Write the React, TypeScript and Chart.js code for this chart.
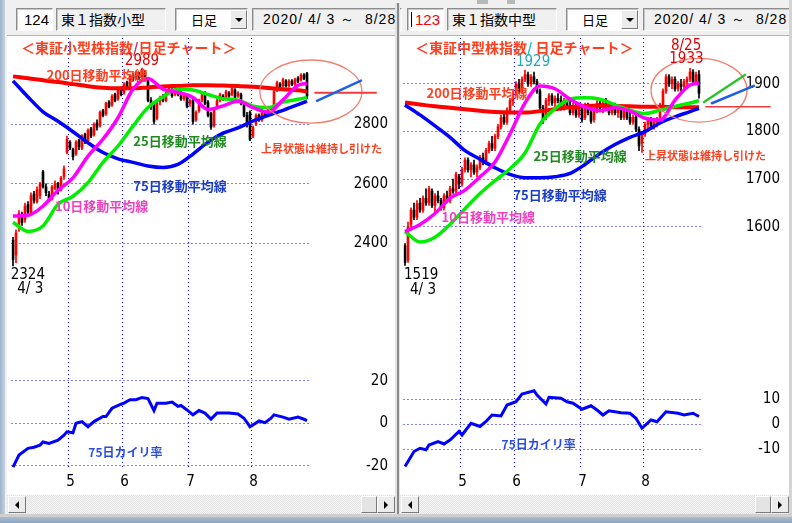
import React, { useEffect, useRef } from 'react';
import { Chart, registerables } from 'chart.js';

Chart.register(...registerables);

// ================= DATA =================
// trading days 2020/4/3 .. 8/28 (index 0..98); month boundaries between days
const monthTickDays = [18.5, 36.5, 58.5, 79.5];
const monthTickLabels = ['5', '6', '7', '8'];
const firstDayLabel = '4/ 3';

// 東１指数小型 : [open, high, low, close]
const smallOHLC = [
  [2410, 2420, 2324, 2345], [2360, 2445, 2335, 2435], [2450, 2510, 2440, 2500], [2495, 2505, 2460, 2470],
  [2480, 2535, 2470, 2525], [2530, 2540, 2495, 2505], [2500, 2570, 2495, 2560], [2565, 2575, 2535, 2545],
  [2540, 2590, 2535, 2580], [2560, 2605, 2550, 2600], [2640, 2645, 2585, 2590], [2590, 2600, 2560, 2570],
  [2565, 2575, 2540, 2545], [2550, 2595, 2545, 2590], [2585, 2610, 2580, 2600], [2600, 2605, 2565, 2575],
  [2580, 2625, 2575, 2620], [2625, 2660, 2615, 2650], [2705, 2760, 2700, 2750], [2740, 2745, 2715, 2720],
  [2715, 2720, 2680, 2690], [2700, 2745, 2695, 2740], [2745, 2750, 2715, 2725], [2720, 2765, 2715, 2760],
  [2765, 2770, 2735, 2740], [2745, 2785, 2740, 2780], [2785, 2790, 2755, 2760], [2765, 2805, 2760, 2800],
  [2805, 2815, 2780, 2790], [2795, 2845, 2790, 2840], [2845, 2850, 2825, 2830], [2835, 2875, 2830, 2870],
  [2875, 2880, 2855, 2860], [2865, 2900, 2860, 2895], [2900, 2905, 2875, 2880], [2885, 2920, 2880, 2915],
  [2920, 2925, 2895, 2900], [2905, 2940, 2900, 2935], [2940, 2945, 2920, 2925], [2930, 2965, 2925, 2960],
  [2965, 2970, 2945, 2950], [2955, 2980, 2950, 2975], [2970, 2975, 2950, 2955], [2960, 2989, 2955, 2985],
  [2975, 2980, 2945, 2950], [2945, 2950, 2875, 2880], [2880, 2890, 2850, 2860], [2870, 2875, 2800, 2810],
  [2820, 2875, 2815, 2870], [2875, 2895, 2865, 2890], [2895, 2900, 2875, 2880], [2880, 2910, 2875, 2905],
  [2910, 2925, 2905, 2920], [2915, 2920, 2890, 2895], [2900, 2930, 2895, 2925], [2920, 2925, 2895, 2900],
  [2905, 2910, 2880, 2885], [2885, 2905, 2880, 2900], [2895, 2900, 2855, 2860], [2870, 2885, 2860, 2880],
  [2880, 2885, 2800, 2810], [2815, 2845, 2810, 2840], [2845, 2885, 2840, 2880], [2880, 2905, 2875, 2900],
  [2905, 2910, 2865, 2870], [2875, 2880, 2825, 2830], [2835, 2840, 2783, 2790], [2795, 2855, 2790, 2850],
  [2855, 2885, 2850, 2880], [2880, 2905, 2875, 2900], [2895, 2900, 2880, 2885], [2890, 2915, 2885, 2910],
  [2905, 2910, 2890, 2895], [2900, 2925, 2895, 2920], [2915, 2920, 2885, 2890], [2895, 2910, 2890, 2905],
  [2900, 2905, 2865, 2870], [2870, 2875, 2825, 2830], [2830, 2840, 2790, 2800], [2840, 2845, 2745, 2750],
  [2760, 2795, 2755, 2790], [2800, 2835, 2795, 2830], [2830, 2835, 2810, 2815], [2815, 2850, 2810, 2845],
  [2840, 2845, 2825, 2830], [2830, 2855, 2825, 2850], [2850, 2855, 2835, 2840], [2845, 2915, 2840, 2910],
  [2915, 2945, 2910, 2940], [2935, 2940, 2920, 2925], [2930, 2955, 2925, 2950], [2945, 2950, 2925, 2930],
  [2930, 2950, 2925, 2945], [2945, 2950, 2930, 2935], [2935, 2955, 2930, 2950], [2955, 2960, 2940, 2945],
  [2950, 2970, 2945, 2965], [2965, 2970, 2950, 2955], [2970, 2975, 2885, 2895],
];

// 東１指数中型 : [open, high, low, close]
const midOHLC = [
  [1560, 1565, 1519, 1525], [1530, 1610, 1525, 1600], [1605, 1640, 1600, 1635], [1635, 1650, 1615, 1620],
  [1620, 1655, 1615, 1648], [1650, 1660, 1630, 1635], [1635, 1665, 1630, 1660], [1660, 1680, 1645, 1650],
  [1650, 1685, 1645, 1680], [1675, 1680, 1640, 1645], [1645, 1670, 1630, 1665], [1665, 1675, 1650, 1655],
  [1655, 1660, 1635, 1640], [1640, 1670, 1635, 1665], [1665, 1675, 1650, 1655], [1655, 1685, 1650, 1680],
  [1680, 1700, 1670, 1675], [1675, 1715, 1670, 1710], [1705, 1710, 1680, 1690], [1690, 1725, 1685, 1720],
  [1720, 1745, 1715, 1740], [1740, 1745, 1715, 1720], [1720, 1735, 1705, 1730], [1730, 1740, 1710, 1715],
  [1715, 1730, 1705, 1725], [1725, 1750, 1720, 1745], [1745, 1755, 1730, 1735], [1735, 1765, 1730, 1760],
  [1760, 1780, 1755, 1775], [1775, 1790, 1760, 1765], [1765, 1795, 1760, 1790], [1790, 1815, 1785, 1810],
  [1810, 1835, 1805, 1830], [1830, 1840, 1815, 1820], [1820, 1850, 1815, 1845], [1845, 1870, 1840, 1865],
  [1865, 1885, 1855, 1880], [1880, 1905, 1875, 1900], [1900, 1910, 1880, 1885], [1885, 1915, 1880, 1910],
  [1910, 1929, 1905, 1920], [1920, 1925, 1895, 1900], [1900, 1920, 1895, 1915], [1915, 1925, 1900, 1905],
  [1905, 1910, 1880, 1885], [1885, 1890, 1845, 1850], [1850, 1855, 1817, 1825], [1830, 1870, 1825, 1865],
  [1865, 1880, 1855, 1875], [1875, 1880, 1855, 1860], [1860, 1875, 1850, 1870], [1870, 1880, 1860, 1865],
  [1865, 1875, 1845, 1850], [1850, 1870, 1845, 1865], [1865, 1870, 1850, 1855], [1855, 1865, 1835, 1840],
  [1840, 1860, 1835, 1855], [1855, 1860, 1830, 1835], [1835, 1855, 1830, 1850], [1850, 1855, 1820, 1825],
  [1830, 1860, 1825, 1855], [1855, 1860, 1835, 1840], [1840, 1845, 1817, 1822], [1825, 1850, 1820, 1845],
  [1845, 1865, 1840, 1860], [1860, 1870, 1845, 1850], [1850, 1865, 1840, 1860], [1860, 1870, 1845, 1850],
  [1850, 1860, 1835, 1840], [1840, 1860, 1835, 1855], [1855, 1860, 1835, 1840], [1840, 1855, 1830, 1850],
  [1850, 1855, 1825, 1830], [1830, 1850, 1825, 1845], [1845, 1850, 1825, 1830], [1830, 1840, 1815, 1820],
  [1820, 1835, 1815, 1830], [1830, 1835, 1800, 1805], [1805, 1810, 1760, 1770], [1775, 1800, 1756, 1795],
  [1795, 1820, 1790, 1815], [1815, 1830, 1805, 1825], [1825, 1830, 1805, 1810], [1810, 1825, 1805, 1820],
  [1820, 1830, 1810, 1828], [1830, 1860, 1825, 1855], [1855, 1890, 1850, 1885], [1885, 1920, 1880, 1915],
  [1915, 1920, 1895, 1900], [1900, 1915, 1890, 1910], [1910, 1915, 1885, 1890], [1890, 1905, 1885, 1900],
  [1900, 1910, 1885, 1895], [1895, 1910, 1890, 1905], [1905, 1915, 1895, 1910], [1910, 1933, 1905, 1925],
  [1925, 1930, 1900, 1905], [1905, 1925, 1900, 1920], [1920, 1928, 1870, 1880],
];

// moving averages read at these day indices
const maDays = [0, 5, 10, 15, 20, 25, 30, 35, 40, 45, 50, 55, 60, 65, 70, 75, 80, 85, 90, 95, 98];
const smallMA200 = [2961, 2955, 2948, 2942, 2935, 2928, 2923, 2921, 2921, 2924, 2927, 2929, 2931, 2931, 2930, 2929, 2926, 2922, 2918, 2914, 2911];
const smallMA75 = [2946, 2892, 2842, 2810, 2775, 2738, 2705, 2684, 2672, 2660, 2655, 2665, 2700, 2740, 2770, 2788, 2811, 2830, 2847, 2866, 2878];
const smallMA25 = [2471, 2440, 2458, 2531, 2558, 2604, 2672, 2727, 2794, 2856, 2892, 2918, 2915, 2900, 2886, 2881, 2861, 2856, 2875, 2884, 2890];
const smallMA10 = [2492, 2494, 2525, 2578, 2620, 2693, 2750, 2822, 2918, 2954, 2918, 2907, 2890, 2850, 2862, 2877, 2856, 2841, 2882, 2931, 2938];
const midMA200 = [1861, 1857, 1853, 1850, 1847, 1844, 1841, 1840, 1840, 1843, 1847, 1851, 1854, 1855, 1854, 1853, 1852, 1852, 1851, 1851, 1851];
const midMA75 = [1856, 1835, 1812, 1788, 1760, 1742, 1724, 1710, 1703, 1703, 1705, 1712, 1731, 1754, 1773, 1788, 1800, 1818, 1831, 1842, 1849];
const midMA25 = [1590, 1568, 1578, 1605, 1638, 1670, 1697, 1722, 1755, 1816, 1848, 1868, 1871, 1868, 1856, 1845, 1838, 1845, 1853, 1860, 1865];
const midMA10 = [1590, 1605, 1628, 1660, 1677, 1705, 1736, 1795, 1860, 1896, 1890, 1868, 1852, 1844, 1850, 1843, 1828, 1824, 1866, 1898, 1902];

// 75日カイリ率 (%)
const smallDevDays = [0, 2, 5, 7, 9, 10, 12, 15, 17, 18, 20, 21, 23, 25, 27, 30, 31, 33, 36, 37, 39, 41, 43, 45, 47, 48, 51, 53, 55, 56, 58, 60, 62, 64, 66, 68, 72, 75, 77, 79, 80, 82, 84, 86, 87, 90, 92, 95, 97, 98];
const smallDev = [-20.7, -15, -11.8, -11.3, -10.3, -8.8, -9.5, -8, -5.6, -4, -4.5, 0, 0.8, -1.6, 0.8, 3.2, 3.2, 7.1, 9, 9.5, 11.1, 11.1, 12.2, 11.7, 6, 9.5, 9.5, 10, 8, 8.4, 6.3, 4, 6, 4.8, 2, 4.8, 4.8, 4.4, 2.4, -1.6, -0.8, 1.1, 0.3, 2.4, 4, 2.9, 1.9, 2.9, 1.9, 1.3];
const midDevDays = [0, 3, 5, 7, 8, 11, 13, 15, 18, 19, 22, 25, 27, 29, 32, 34, 37, 39, 43, 44, 47, 48, 52, 54, 56, 59, 62, 64, 66, 68, 72, 75, 77, 79, 82, 84, 87, 91, 93, 96, 98];
const midDev = [-17, -11, -9.7, -10.3, -8.4, -7, -8, -6.4, -3, -4.4, 0.3, -1, 1, 3.6, 3.2, 7.6, 8.9, 12, 13.3, 11.6, 8, 10.7, 10.3, 8.9, 8.3, 5.9, 7.3, 5.6, 3.6, 5.3, 4.5, 4.3, 2.3, -1.7, 1.6, 0.9, 4.9, 4.3, 3.6, 4.3, 3];

// axis ticks
const smallPriceTicks = [2400, 2600, 2800];
const smallDevTicks = [-20, -10, 0, 10, 20];
const midPriceTicks = [1600, 1700, 1800, 1900];
const midDevTicks = [-10, 0, 10];

// ================= STYLE =================
const JP = '"Noto Sans CJK JP", "Noto Sans CJK SC", sans-serif';
const NUM = '"Liberation Sans Narrow", "DejaVu Sans Condensed", "Liberation Sans", sans-serif';
const NUM_SIZE = 15;
const GRID = '#0000ff';
const UP = '#ff0000';
const DOWN = '#000000';
const CW = 391;
const CH = 459;
const AXIS_W = 78;

type Part = { t: string; c: string };
type Note = { day: number; value: number; axis: 'y' | 'y2'; parts: Part[]; font: string; center?: boolean };
type Oval = { day: number; value: number; rDays: number; rValue: number; color: string; width: number };
type Seg = { d1: number; v1: number; d2: number; v2: number; color: string; width: number };

type Panel = {
  ohlc: number[][];
  ma200: number[]; ma75: number[]; ma25: number[]; ma10: number[];
  devDays: number[]; dev: number[];
  priceMin: number; priceMax: number; priceTicks: number[];
  devMin: number; devMax: number; devTicks: number[];
  notes: Note[]; ovals: Oval[]; segs: Seg[];
};

const ORANGE = '#ff4020';
const bold = (px: number) => `bold ${px}px ${JP}`;
const numFont = `${NUM_SIZE}px ${NUM}`;

const smallPeak = smallOHLC.reduce((b, r, i) => (r[1] > smallOHLC[b][1] ? i : b), 0);
const midPeak = midOHLC.reduce((b, r, i) => (r[1] > midOHLC[b][1] ? i : b), 0);

const smallPanel: Panel = {
  ohlc: smallOHLC, ma200: smallMA200, ma75: smallMA75, ma25: smallMA25, ma10: smallMA10,
  devDays: smallDevDays, dev: smallDev,
  priceMin: 2007.7, priceMax: 3090, priceTicks: smallPriceTicks,
  devMin: -22.03, devMax: 29.86, devTicks: smallDevTicks,
  ovals: [{ day: 99.3, value: 2910, rDays: 17, rValue: 106, color: '#f08070', width: 1.3 }],
  segs: [
    { d1: 100.7, v1: 2906, d2: 121, v2: 2906, color: '#f03c3c', width: 2 },
    { d1: 101.3, v1: 2879, d2: 116, v2: 2947, color: '#2060e8', width: 2.5 },
  ],
  notes: [
    { day: smallPeak, value: 3014, axis: 'y', parts: [{ t: String(smallOHLC[smallPeak][1]), c: '#e00000' }], font: numFont, center: true },
    { day: 2.67, value: 3056, axis: 'y', parts: [{ t: '＜東証小型株指数', c: ORANGE }, { t: '/', c: '#c03060' }, { t: '日足チャート＞', c: ORANGE }], font: bold(14) },
    { day: -0.77, value: 2293, axis: 'y', parts: [{ t: String(smallOHLC[0][2]), c: '#000' }], font: numFont },
    { day: 1.43, value: 2245, axis: 'y', parts: [{ t: firstDayLabel, c: '#000' }], font: numFont },
    { day: 11.2, value: 2966, axis: 'y', parts: [{ t: '200日移動平均線', c: ORANGE }], font: bold(13) },
    { day: 40.1, value: 2744, axis: 'y', parts: [{ t: '25日移動平均線', c: '#208a20' }], font: bold(13) },
    { day: 40.1, value: 2593, axis: 'y', parts: [{ t: '75日移動平均線', c: '#1a3cc8' }], font: bold(13) },
    { day: 14, value: 2526, axis: 'y', parts: [{ t: '10日移動平均線', c: '#f040c0' }], font: bold(13) },
    { day: 82.7, value: 2719, axis: 'y', parts: [{ t: '上昇状態は維持し引けた', c: ORANGE }], font: bold(11) },
    { day: 25.1, value: -13.7, axis: 'y2', parts: [{ t: '75日カイリ率', c: '#2a4ce0' }], font: bold(12) },
  ],
};

const midPanel: Panel = {
  ohlc: midOHLC, ma200: midMA200, ma75: midMA75, ma25: midMA25, ma10: midMA10,
  devDays: midDevDays, dev: midDev,
  priceMin: 1320.2, priceMax: 1996.6, priceTicks: midPriceTicks,
  devMin: -18.4, devMax: 25.6, devTicks: midDevTicks,
  ovals: [{ day: 98, value: 1887, rDays: 16, rValue: 67, color: '#f08070', width: 1.3 }],
  segs: [
    { d1: 100.3, v1: 1852, d2: 121.7, v2: 1852, color: '#f03c3c', width: 1.5 },
    { d1: 99.7, v1: 1862, d2: 113.3, v2: 1919, color: '#30c030', width: 2.5 },
    { d1: 102.3, v1: 1859.5, d2: 116.3, v2: 1896, color: '#2060e8', width: 2.5 },
  ],
  notes: [
    { day: 42.7, value: 1947, axis: 'y', parts: [{ t: '1929', c: '#20a8b8' }], font: numFont, center: true },
    { day: 3.33, value: 1975.6, axis: 'y', parts: [{ t: '＜東証中型株指数', c: ORANGE }, { t: '/', c: '#10c0d0' }, { t: ' 日足チャート＞', c: ORANGE }], font: bold(14) },
    { day: midPeak - 1.3, value: 1980, axis: 'y', parts: [{ t: '8/25', c: '#e00000' }], font: numFont, center: true },
    { day: midPeak - 1.2, value: 1952.5, axis: 'y', parts: [{ t: String(midOHLC[midPeak][1]), c: '#e00000' }], font: numFont, center: true },
    { day: -0.33, value: 1498.7, axis: 'y', parts: [{ t: String(midOHLC[0][2]), c: '#000' }], font: numFont },
    { day: 1.67, value: 1468, axis: 'y', parts: [{ t: firstDayLabel, c: '#000' }], font: numFont },
    { day: 7.2, value: 1880.5, axis: 'y', parts: [{ t: '200日移動平均線', c: ORANGE }], font: bold(13) },
    { day: 42.8, value: 1749, axis: 'y', parts: [{ t: '25日移動平均線', c: '#208a20' }], font: bold(13) },
    { day: 36.1, value: 1667, axis: 'y', parts: [{ t: '75日移動平均線', c: '#1a3cc8' }], font: bold(13) },
    { day: 12.2, value: 1621, axis: 'y', parts: [{ t: '10日移動平均線', c: '#f040c0' }], font: bold(13) },
    { day: 80, value: 1749, axis: 'y', parts: [{ t: '上昇状態は維持し引けた', c: ORANGE }], font: bold(11) },
    { day: 32.2, value: -8, axis: 'y2', parts: [{ t: '75日カイリ率', c: '#2a4ce0' }], font: bold(12) },
  ],
};

function widest(labels: string[]): number {
  const c = document.createElement('canvas').getContext('2d') as CanvasRenderingContext2D;
  c.font = numFont;
  return Math.max(...labels.map((l) => c.measureText(l).width));
}

function notesPlugin(p: Panel) {
  return {
    id: 'panelNotes',
    afterDraw(chart: any) {
      const ctx: CanvasRenderingContext2D = chart.ctx;
      const xs = chart.scales.x;
      const ys = chart.scales.y;
      ctx.save();
      for (const o of p.ovals) {
        const cx = xs.getPixelForValue(o.day);
        const cy = ys.getPixelForValue(o.value);
        const rx = Math.abs(xs.getPixelForValue(o.day + o.rDays) - cx);
        const ry = Math.abs(ys.getPixelForValue(o.value + o.rValue) - cy);
        ctx.beginPath();
        ctx.ellipse(cx, cy, rx, ry, 0, 0, Math.PI * 2);
        ctx.strokeStyle = o.color;
        ctx.lineWidth = o.width;
        ctx.stroke();
      }
      for (const s of p.segs) {
        ctx.beginPath();
        ctx.moveTo(xs.getPixelForValue(s.d1), ys.getPixelForValue(s.v1));
        ctx.lineTo(xs.getPixelForValue(s.d2), ys.getPixelForValue(s.v2));
        ctx.strokeStyle = s.color;
        ctx.lineWidth = s.width;
        ctx.lineCap = 'round';
        ctx.stroke();
      }
      for (const n of p.notes) {
        const sc = chart.scales[n.axis];
        let x = xs.getPixelForValue(n.day);
        const y = sc.getPixelForValue(n.value);
        ctx.font = n.font;
        ctx.textBaseline = 'middle';
        ctx.textAlign = 'left';
        const total = n.parts.reduce((w, q) => w + ctx.measureText(q.t).width, 0);
        if (n.center) x -= total / 2;
        for (const q of n.parts) {
          ctx.fillStyle = q.c;
          ctx.fillText(q.t, x, y);
          x += ctx.measureText(q.t).width;
        }
      }
      ctx.restore();
    },
  };
}

function buildConfig(p: Panel): any {
  const colors = p.ohlc.map((r) => (r[3] >= r[0] ? UP : DOWN));
  const pts = (vals: number[]) => maDays.map((d, i) => ({ x: d, y: vals[i] }));
  const line = (vals: number[], color: string, w: number, order: number) => ({
    type: 'line', data: pts(vals), borderColor: color, borderWidth: w, pointRadius: 0,
    cubicInterpolationMode: 'monotone', yAxisID: 'y', order,
  });
  const priceW = widest(p.priceTicks.map(String));
  const devW = widest(p.devTicks.map(String));
  const yAxis = (min: number, max: number, ticks: number[], weight: number, wid: number) => ({
    type: 'linear', position: 'right', stack: 'panel', stackWeight: weight, min, max, bounds: 'data',
    afterBuildTicks: (s: any) => { s.ticks = ticks.map((v) => ({ value: v })); },
    afterFit: (s: any) => { s.width = AXIS_W; s.paddingTop = 0; s.paddingBottom = 0; },
    ticks: { font: { family: NUM, size: NUM_SIZE }, color: '#000', crossAlign: 'far', padding: AXIS_W - wid, callback: (v: any) => String(v) },
    grid: { color: GRID, lineWidth: 1, drawTicks: false },
    border: { display: false, dash: [1, 3] },
  });
  return {
    type: 'bar',
    data: {
      datasets: [
        { type: 'bar', data: p.ohlc.map((r, i) => ({ x: i, y: [r[2], r[1]] })), backgroundColor: colors, barThickness: 1, grouped: false, borderWidth: 0, yAxisID: 'y', order: 20 },
        { type: 'bar', data: p.ohlc.map((r, i) => ({ x: i, y: [r[0], r[3]] })), backgroundColor: colors, barThickness: 2, minBarLength: 1, grouped: false, borderWidth: 0, yAxisID: 'y', order: 19 },
        line(p.ma200, '#ff0000', 4, 6),
        line(p.ma75, '#0000ff', 3.5, 5),
        line(p.ma25, '#00ee00', 3.5, 4),
        line(p.ma10, '#ff00ff', 3.5, 3),
        { type: 'line', data: p.devDays.map((d, i) => ({ x: d, y: p.dev[i] })), borderColor: '#0000ff', borderWidth: 3, pointRadius: 0, tension: 0, yAxisID: 'y2', order: 1 },
      ],
    },
    options: {
      responsive: false,
      animation: false,
      events: [],
      layout: { padding: { left: 7.5, top: 2, right: CW - 7.5 - 298.5 - AXIS_W, bottom: 0 } },
      plugins: { legend: { display: false }, tooltip: { enabled: false }, title: { display: false } },
      scales: {
        x: {
          type: 'linear', min: -0.5, max: 99, offset: false, bounds: 'data',
          afterBuildTicks: (s: any) => { s.ticks = monthTickDays.map((v) => ({ value: v })); },
          afterFit: (s: any) => { s.height = 25; s.paddingLeft = 0; s.paddingRight = 0; },
          ticks: { autoSkip: false, maxRotation: 0, padding: 3, labelOffset: 2, font: { family: NUM, size: NUM_SIZE }, color: '#000', callback: (_v: any, i: number) => monthTickLabels[i] },
          grid: { color: GRID, lineWidth: 1, drawTicks: false, offset: false },
          border: { display: false, dash: [1, 3] },
        },
        y: yAxis(p.priceMin, p.priceMax, p.priceTicks, 322, priceW),
        y2: yAxis(p.devMin, p.devMax, p.devTicks, 110, devW),
      },
    },
    plugins: [notesPlugin(p)],
  };
}

function PanelChart({ panel, left }: { panel: Panel; left: number }) {
  const ref = useRef<HTMLCanvasElement>(null);
  useEffect(() => {
    const chart = new Chart(ref.current as HTMLCanvasElement, buildConfig(panel));
    return () => chart.destroy();
  }, [panel]);
  return <canvas ref={ref} width={CW} height={CH} style={{ position: 'absolute', left, top: 36, width: CW, height: CH }} />;
}

// ================= FRAME =================
const abs = (left: number, top: number, width: number, height: number, extra: any = {}): any => ({ position: 'absolute', left, top, width, height, boxSizing: 'border-box', ...extra });
const inset = { borderTop: '1px solid #8c8c8c', borderLeft: '1px solid #8c8c8c', borderBottom: '1px solid #ffffff', borderRight: '1px solid #ffffff', boxShadow: 'inset 1px 1px 0 #c8c8c8' };
const raised = { borderTop: '1px solid #ffffff', borderLeft: '1px solid #ffffff', borderBottom: '1px solid #7a7a7a', borderRight: '1px solid #7a7a7a', background: '#ececec' };

function Tri({ dir }: { dir: 'l' | 'r' | 'd' }) {
  const s: any = { width: 0, height: 0, position: 'absolute', left: '50%', top: '50%', transform: 'translate(-50%,-50%)' };
  if (dir === 'l') Object.assign(s, { borderTop: '4px solid transparent', borderBottom: '4px solid transparent', borderRight: '4px solid #000' });
  if (dir === 'r') Object.assign(s, { borderTop: '4px solid transparent', borderBottom: '4px solid transparent', borderLeft: '4px solid #000' });
  if (dir === 'd') Object.assign(s, { borderLeft: '4px solid transparent', borderRight: '4px solid transparent', borderTop: '4px solid #000' });
  return <div style={s} />;
}

function Toolbar({ dx, code, codeColor, name, cursor }: { dx: number; code: string; codeColor: string; name: string; cursor: boolean }) {
  const txt = { position: 'absolute', top: 0, height: 21, lineHeight: '21px', whiteSpace: 'pre' } as any;
  return (
    <>
      <div style={abs(16 + dx, 8, 37, 23, { ...inset, background: '#fff' })}>
        {cursor && <div style={abs(3, 3, 1, 15, { background: '#000' })} />}
        <div style={{ ...txt, right: 3, fontFamily: '"Liberation Sans", sans-serif', fontSize: 15, color: codeColor }}>{code}</div>
      </div>
      <div style={abs(56 + dx, 8, 110, 23, { ...inset, background: '#f0f0f0' })}>
        <div style={{ ...txt, left: 4, fontFamily: JP, fontSize: 14, color: '#000' }}>{name}</div>
      </div>
      <div style={abs(175 + dx, 8, 73, 23, { ...inset, background: '#fff' })}>
        <div style={{ ...txt, left: 15, fontFamily: JP, fontSize: 13, color: '#000' }}>日足</div>
        <div style={abs(54, 1, 17, 19, raised)}><Tri dir="d" /></div>
      </div>
      <div style={abs(252 + dx, 8, 150, 23, { ...inset, background: '#f0f0f0', overflow: 'hidden' })}>
        <div style={{ ...txt, left: 10, fontFamily: '"Liberation Sans", sans-serif', fontSize: 14, letterSpacing: 1, color: '#000' }}>2020/ 4/ 3 ～  8/28</div>
      </div>
    </>
  );
}

function ScrollBar({ left, width }: { left: number; width: number }) {
  return (
    <div style={abs(left, 495, width, 19, { background: 'repeating-conic-gradient(#f6f6f6 0 25%, #e2e2e2 0 50%) 0 0/2px 2px' })}>
      <div style={abs(1, 1, 18, 17, raised)}><Tri dir="l" /></div>
      <div style={abs(width - 34, 1, 16, 17, { ...raised, background: '#e4e4e4' })} />
      <div style={abs(width - 18, 1, 18, 17, raised)}><Tri dir="r" /></div>
    </div>
  );
}

export default function App() {
  return (
    <div style={{ position: 'fixed', left: 0, top: 0, width: 792, height: 523, overflow: 'hidden', background: '#f0f0f0' }}>
      <div style={abs(0, 0, 5, 523, { background: 'linear-gradient(to right, #9db3cc, #c4d2e2)' })} />
      <div style={abs(477, 0, 11, 4, { background: '#b8b8b8' })} />
      <div style={abs(507, 0, 8, 4, { background: '#b8b8b8' })} />
      <Toolbar dx={0} code="124" codeColor="#000" name="東１指数小型" cursor={false} />
      <Toolbar dx={391} code="123" codeColor="#ff0000" name="東１指数中型" cursor={true} />
      <div style={abs(7, 35, 388, 1, { background: '#b4b4b4' })} />
      <div style={abs(7, 36, 388, 459, { background: '#fff' })} />
      <div style={abs(400, 35, 389, 1, { background: '#b4b4b4' })} />
      <div style={abs(400, 36, 389, 459, { background: '#fff' })} />
      <ScrollBar left={7} width={388} />
      <ScrollBar left={400} width={389} />
      <div style={abs(395, 3, 5, 514, { background: '#e4e4e4' })} />
      <div style={abs(397, 3, 2, 514, { background: '#8a8a8a' })} />
      <div style={abs(789, 0, 3, 523, { background: '#d4d4d4' })} />
      <div style={abs(0, 514, 792, 3, { background: '#cfcfcf' })} />
      <div style={abs(0, 517, 792, 6, { background: 'linear-gradient(#a9bcd2, #8ea6c1)' })} />
      <PanelChart panel={smallPanel} left={4} />
      <PanelChart panel={midPanel} left={396} />
    </div>
  );
}
